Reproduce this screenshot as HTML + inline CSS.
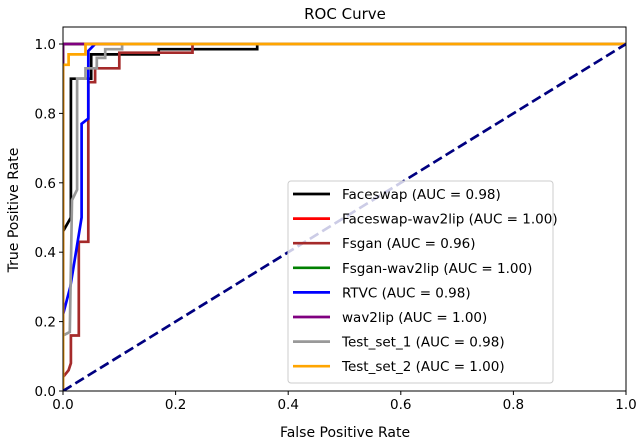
<!DOCTYPE html>
<html><head><meta charset="utf-8"><style>
body{margin:0;background:#fff}
svg text{font-family:"DejaVu Sans","Liberation Sans",sans-serif;fill:#000}
</style></head><body>
<svg id="chart" width="640" height="442" xmlns="http://www.w3.org/2000/svg">
<g id="plot"></g>
<g id="axes"></g>
<text x="345" y="19" font-size="15" text-anchor="middle">ROC Curve</text>
<text x="345" y="437" font-size="14" text-anchor="middle">False Positive Rate</text>
<text x="18" y="210" font-size="14" text-anchor="middle" transform="rotate(-90 18 210)">True Positive Rate</text>
<g id="legend"></g>
</svg>
<script>
const seriesNames = ["Faceswap","Faceswap-wav2lip","Fsgan","Fsgan-wav2lip","RTVC","wav2lip","Test_set_1","Test_set_2"];
const seriesAUC = ["0.98","1.00","0.96","1.00","0.98","1.00","0.98","1.00"];
const seriesColors = ["#000000","#ff0000","#a52a2a","#008000","#0000ff","#800080","#999999","#ffa500"];
const fprFaceswap = [0,0,0.014,0.014,0.05,0.05,0.17,0.17,0.345,0.345,1];
const tprFaceswap = [0,0.46,0.5,0.9,0.9,0.97,0.97,0.985,0.985,1,1];
const fprFaceswapW = [0,0,1];
const tprFaceswapW = [0,1,1];
const fprFsgan = [0,0.01,0.014,0.014,0.028,0.028,0.045,0.045,0.057,0.057,0.1,0.1,0.23,0.23,1];
const tprFsgan = [0.04,0.06,0.08,0.16,0.16,0.43,0.43,0.89,0.89,0.93,0.93,0.975,0.975,1,1];
const fprFsganW = [0,0,1];
const tprFsganW = [0,1,1];
const fprRTVC = [0,0,0.013,0.033,0.033,0.045,0.045,0.057,1];
const tprRTVC = [0,0.22,0.3,0.5,0.77,0.785,0.98,1,1];
const fprWav2lip = [0,0,1];
const tprWav2lip = [0,1,1];
const fprTest1 = [0,0,0.012,0.016,0.025,0.025,0.04,0.04,0.06,0.06,0.075,0.075,0.105,0.105,1];
const tprTest1 = [0,0.16,0.17,0.55,0.58,0.9,0.9,0.93,0.93,0.96,0.96,0.985,0.985,1,1];
const fprTest2 = [0,0,0.01,0.01,0.04,0.04,1];
const tprTest2 = [0,0.94,0.94,0.97,0.97,1,1];
const allFpr = [fprFaceswap,fprFaceswapW,fprFsgan,fprFsganW,fprRTVC,fprWav2lip,fprTest1,fprTest2];
const allTpr = [tprFaceswap,tprFaceswapW,tprFsgan,tprFsganW,tprRTVC,tprWav2lip,tprTest1,tprTest2];
const xTicks = [0,0.2,0.4,0.6,0.8,1.0];
const yTicks = [0,0.2,0.4,0.6,0.8,1.0];
const xTickLabels = ["0.0","0.2","0.4","0.6","0.8","1.0"];
const yTickLabels = ["0.0","0.2","0.4","0.6","0.8","1.0"];

const L=63,R=626,B=391,T=27;
const sx=v=>L+v*(R-L);
const sy=v=>B-v*347;
const NS="http://www.w3.org/2000/svg";
function mk(tag,attrs,parent){const e=document.createElementNS(NS,tag);for(const k in attrs)e.setAttribute(k,attrs[k]);parent.appendChild(e);return e;}
const plot=document.getElementById('plot'),axes=document.getElementById('axes'),legend=document.getElementById('legend');
const clip=mk('clipPath',{id:'c'},plot);mk('rect',{x:L,y:T,width:R-L,height:B-T},clip);
const pg=mk('g',{'clip-path':'url(#c)'},plot);
allFpr.forEach((f,i)=>{
  const pts=f.map((x,j)=>sx(x).toFixed(1)+','+sy(allTpr[i][j]).toFixed(1)).join(' ');
  const p=mk('polyline',{points:pts,fill:'none',stroke:seriesColors[i],'stroke-width':2.7,'stroke-linejoin':'miter'},pg);
  
  
});
const d=mk('line',{x1:sx(0),y1:sy(0),x2:sx(1),y2:sy(1),stroke:'#000080','stroke-width':2.7,'stroke-dasharray':'10,4.5'},pg);


mk('rect',{x:L,y:T,width:R-L,height:B-T,fill:'none',stroke:'#000','stroke-width':1},axes);
xTicks.forEach((v,i)=>{
  mk('line',{x1:sx(v),y1:B,x2:sx(v),y2:B+4,stroke:'#000'},axes);
  const t=mk('text',{x:sx(v),y:B+18,'font-size':13.5,'text-anchor':'middle'},axes);t.textContent=xTickLabels[i];
  
  
});
yTicks.forEach((v,i)=>{
  mk('line',{x1:L-4,y1:sy(v),x2:L,y2:sy(v),stroke:'#000'},axes);
  const t=mk('text',{x:L-7,y:sy(v)+5,'font-size':13.5,'text-anchor':'end'},axes);t.textContent=yTickLabels[i];
  
  
});
mk('rect',{x:288,y:181,width:265,height:202,rx:3,fill:'#fff','fill-opacity':0.8,stroke:'#ccc'},legend);
seriesNames.forEach((n,i)=>{
  const y=194+i*24.6;
  const g=mk('g',{},legend);
  
  
  mk('line',{x1:293,y1:y,x2:330,y2:y,stroke:seriesColors[i],'stroke-width':2.7},g);
  const t=mk('text',{x:342,y:y+5,'font-size':13.5},g);t.textContent=n+' (AUC = '+seriesAUC[i]+')';
});
</script>
</body></html>
